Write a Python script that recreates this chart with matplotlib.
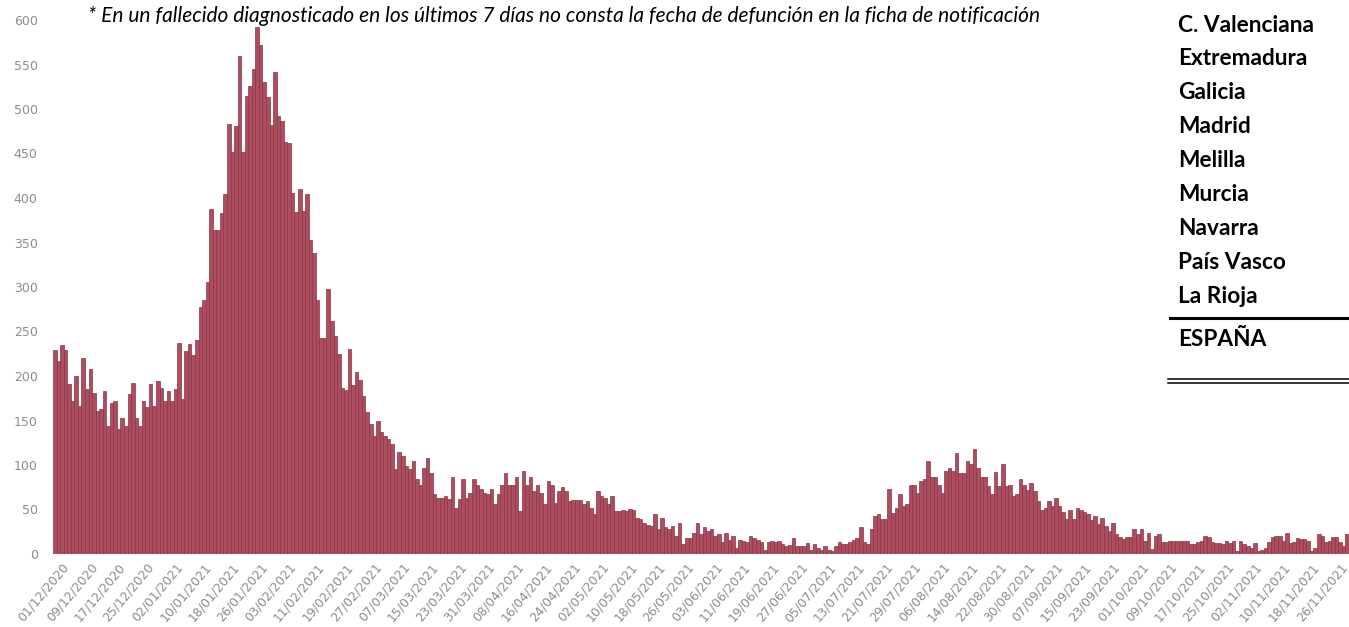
import matplotlib
matplotlib.use('Agg')
import matplotlib.pyplot as plt
import matplotlib.transforms as mtransforms
from matplotlib.lines import Line2D
import numpy as np
import pandas as pd

# ---------------- data (daily deaths by date of death) ----------------
deaths_dec_2020 = [229, 217, 235, 229, 191, 172, 200, 166, 220, 185, 208, 181, 161, 163, 183,
                   144, 170, 172, 140, 153, 144, 180, 192, 153, 144, 172, 165, 191, 166, 194, 187]
deaths_jan_2021 = [172, 183, 172, 185, 237, 174, 228, 236, 224, 240, 278, 285, 306, 388, 364,
                   364, 383, 405, 483, 452, 481, 559, 452, 515, 526, 545, 592, 572, 530, 513, 482]
deaths_feb_2021 = [542, 492, 486, 463, 462, 406, 384, 410, 385, 404, 353, 338, 285, 243, 243,
                   298, 262, 245, 225, 187, 184, 230, 190, 205, 195, 178, 160, 146]
deaths_mar_2021 = [133, 150, 137, 133, 129, 124, 95, 115, 110, 99, 95, 105, 84, 77, 97,
                   108, 91, 67, 63, 63, 65, 62, 86, 52, 62, 84, 63, 69, 84, 77, 73]
deaths_apr_2021 = [69, 67, 73, 56, 67, 77, 91, 78, 78, 86, 48, 93, 77, 87, 71,
                   78, 69, 56, 82, 78, 57, 71, 75, 71, 60, 61, 61, 61, 56, 60]
deaths_may_2021 = [52, 45, 71, 65, 63, 56, 65, 48, 48, 49, 48, 51, 50, 41, 39,
                   35, 33, 31, 45, 28, 41, 30, 28, 31, 20, 35, 11, 18, 18, 24, 35]
deaths_jun_2021 = [22, 30, 26, 28, 20, 22, 14, 24, 16, 20, 7, 16, 15, 13, 20,
                   18, 16, 13, 5, 14, 15, 14, 15, 11, 9, 10, 18, 9, 9, 9]
deaths_jul_2021 = [12, 5, 11, 7, 5, 9, 5, 3, 9, 14, 11, 11, 14, 16, 18,
                   30, 14, 11, 28, 43, 45, 39, 39, 73, 46, 52, 67, 54, 56, 78, 78]
deaths_aug_2021 = [69, 82, 84, 104, 86, 86, 78, 69, 93, 97, 93, 114, 91, 91, 105,
                   101, 118, 97, 86, 86, 76, 67, 92, 76, 101, 76, 78, 65, 67, 84, 77]
deaths_sep_2021 = [72, 80, 71, 60, 50, 52, 60, 54, 63, 54, 47, 39, 50, 39, 52,
                   50, 47, 45, 38, 43, 34, 41, 32, 26, 35, 22, 19, 17, 19, 19]
deaths_oct_2021 = [28, 22, 28, 15, 24, 6, 20, 22, 13, 14, 15, 15, 15, 15, 15,
                   15, 11, 11, 14, 15, 20, 19, 13, 12, 12, 11, 15, 12, 15, 3, 15]
deaths_nov_2021 = [11, 9, 7, 12, 3, 5, 7, 13, 19, 20, 20, 15, 24, 12, 13,
                   18, 17, 17, 15, 3, 7, 22, 20, 13, 15, 19, 19, 13, 9, 22]

start_date = '2020-12-01'
tick_step_days = 8
y_ticks = [0, 50, 100, 150, 200, 250, 300, 350, 400, 450, 500, 550, 600]

note_text = ("* En un fallecido diagnosticado en los últimos 7 días no consta "
             "la fecha de defunción en la ficha de notificación")
table_regions = ["C. Valenciana", "Extremadura", "Galicia", "Madrid", "Melilla",
                 "Murcia", "Navarra", "País Vasco", "La Rioja"]
table_total = "ESPAÑA"

# ---------------- build ----------------
values = np.concatenate([deaths_dec_2020, deaths_jan_2021, deaths_feb_2021, deaths_mar_2021,
                         deaths_apr_2021, deaths_may_2021, deaths_jun_2021, deaths_jul_2021,
                         deaths_aug_2021, deaths_sep_2021, deaths_oct_2021, deaths_nov_2021])
dates = pd.date_range(start_date, periods=len(values), freq='D')
x = np.arange(len(values))

W, H = 1349, 627
fig = plt.figure(figsize=(W / 100, H / 100), dpi=100)
fig.patch.set_facecolor('white')


def rect(x0, y0, w, h):
    return [x0 / W, 1 - (y0 + h) / H, w / W, h / H]


ax = fig.add_axes(rect(53, 20, 1296, 534))
ax.bar(x, values, width=1.0, color='#AD4E60', edgecolor='#8A3445', linewidth=0.5)
ax.set_xlim(-0.5, len(values) - 0.5)
ax.set_ylim(0, 600)
ax.set_yticks(y_ticks)
ax.tick_params(axis='y', length=0, pad=11, labelsize=9, labelcolor='#8c8c8c')

tick_idx = x[::tick_step_days]
ax.set_xticks(tick_idx)
ax.set_xticklabels([dates[i].strftime('%d/%m/%Y') for i in tick_idx],
                   rotation=50, ha='right', rotation_mode='anchor',
                   fontsize=9, color='#8c8c8c')
ax.tick_params(axis='x', length=0, pad=5)
offset = mtransforms.ScaledTranslation(5 / 72, 0, fig.dpi_scale_trans)
for lab in ax.get_xticklabels():
    lab.set_transform(lab.get_transform() + offset)
for s in ax.spines.values():
    s.set_visible(False)
ax.set_facecolor('none')

fig.canvas.draw()
renderer = fig.canvas.get_renderer()


def fit_text(t, target_w):
    w = t.get_window_extent(renderer).width
    t.set_fontsize(t.get_fontsize() * target_w / w)


note = fig.text(88 / W, 1 - 16 / H, note_text, ha='left', va='center',
                style='italic', family=['Lato', 'DejaVu Sans'], fontsize=13, color='black')
fit_text(note, 947)

row_y = [25 + 33.9 * i for i in range(len(table_regions))]
texts = []
for name, yc in zip(table_regions, row_y):
    t = fig.text(1178 / W, 1 - yc / H, name, ha='left', va='center',
                 fontweight='bold', family=['Lato', 'DejaVu Sans'], fontsize=16, color='black')
    texts.append(t)
tot = fig.text(1178 / W, 1 - 339 / H, table_total, ha='left', va='center',
               fontweight='bold', family=['Lato', 'DejaVu Sans'], fontsize=16, color='black')
texts.append(tot)
w0 = texts[0].get_window_extent(renderer).width
fs = 16 * 136 / w0
for t in texts:
    t.set_fontsize(fs)

fig.add_artist(Line2D([1170 / W, 1.0], [1 - 318 / H] * 2, lw=2.2, color='black'))
fig.add_artist(Line2D([1168 / W, 1.0], [1 - 378.5 / H] * 2, lw=1.1, color='black'))
fig.add_artist(Line2D([1168 / W, 1.0], [1 - 382.5 / H] * 2, lw=1.1, color='black'))

fig.savefig('out.png', dpi=100, facecolor='white')
